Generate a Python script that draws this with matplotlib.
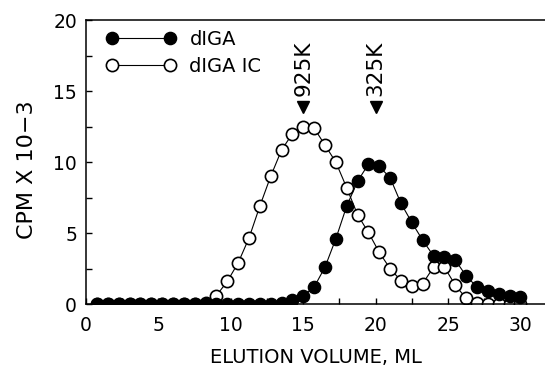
import numpy as np
import matplotlib
matplotlib.use("Agg")
import matplotlib.pyplot as plt
from matplotlib.ticker import MultipleLocator

plt.rcParams['font.family'] = ['DejaVu Sans']

# fraction volumes (ml)
volumen = [0.75 * i for i in range(1, 41)]

# dIGA (filled)
diga = [0.0, 0.0, 0.0, 0.0, 0.0, 0.0, 0.0, 0.0, 0.0, 0.0,
        0.0, 0.0, 0.0, 0.0, 0.0, 0.0, 0.0, 0.05, 0.3, 0.6,
        1.2, 2.6, 4.6, 6.9, 8.65, 9.85, 9.7, 8.9, 7.1, 5.75,
        4.5, 3.4, 3.35, 3.1, 2.0, 1.2, 0.9, 0.7, 0.6, 0.5]

# dIGA IC (open)
diga_ic = [0.0, 0.0, 0.0, 0.0, 0.0, 0.0, 0.0, 0.0, 0.0, 0.0,
           0.1, 0.6, 1.6, 2.9, 4.65, 6.9, 9.0, 10.85, 12.0, 12.45,
           12.4, 11.2, 10.0, 8.2, 6.3, 5.05, 3.65, 2.5, 1.65, 1.27,
           1.45, 2.6, 2.6, 1.35, 0.4, 0.1, 0.0, 0.0, 0.0, 0.0]

marcadores_x = [15, 20]
marcadores_txt = ['925K', '325K']
marcador_y = 13.9

fig = plt.figure(figsize=(5.45, 3.66), dpi=100)
ax = fig.add_axes([0.158, 0.169, 0.842, 0.776])

ax.plot(volumen, diga_ic, '-', color='black', linewidth=0.8,
        marker='o', markersize=8.8, markerfacecolor='white',
        markeredgecolor='black', markeredgewidth=1.2, label='dIGA IC', zorder=2)
ax.plot(volumen, diga, '-', color='black', linewidth=0.8,
        marker='o', markersize=8.8, markerfacecolor='black',
        markeredgecolor='black', label='dIGA', zorder=3)

for xm, txt in zip(marcadores_x, marcadores_txt):
    ax.plot([xm], [marcador_y], marker='v', color='black', markersize=9,
            linestyle='none', zorder=4)
    ax.text(xm, marcador_y + 0.75, txt, rotation=90, ha='center', va='bottom',
            fontsize=15.5)

ax.set_xlim(0, 31.7)
ax.set_ylim(0, 20)
ax.xaxis.set_major_locator(MultipleLocator(5))
ax.xaxis.set_minor_locator(MultipleLocator(2.5))
ax.yaxis.set_major_locator(MultipleLocator(5))
ax.yaxis.set_minor_locator(MultipleLocator(2.5))
ax.tick_params(which='both', direction='in', length=4, width=1, labelsize=13.5,
               top=False, right=False)
ax.tick_params(axis='x', pad=8.5)
ax.tick_params(axis='y', pad=6.5)
ax.spines['right'].set_visible(False)
for s in ['left', 'bottom', 'top']:
    ax.spines[s].set_linewidth(1.1)

ax.set_xlabel('ELUTION VOLUME, ML', fontsize=14)
ax.xaxis.set_label_coords(0.5, -0.155)
ax.set_ylabel('CPM X 10\u22123', fontsize=16)
ax.yaxis.set_label_coords(-0.108, 0.472)

h, l = ax.get_legend_handles_labels()
ax.legend(h[::-1], l[::-1], loc='upper left', bbox_to_anchor=(0.026, 0.993),
          frameon=False, numpoints=2, handlelength=3.6, fontsize=14,
          borderaxespad=0, borderpad=0.4, handletextpad=0.7, labelspacing=0.4)

fig.savefig('out.png', dpi=100)
